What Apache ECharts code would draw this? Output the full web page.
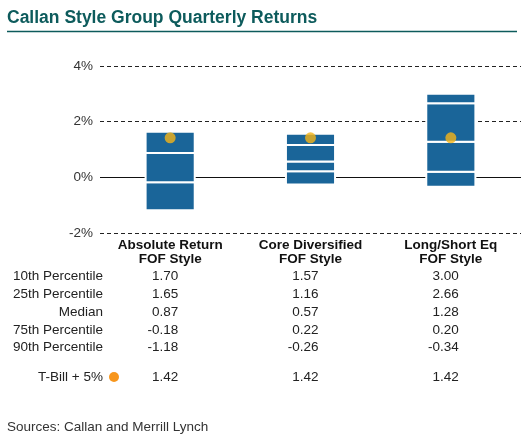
<!DOCTYPE html>
<html><head><meta charset="utf-8">
<script src="https://cdn.jsdelivr.net/npm/echarts@6/dist/echarts.min.js"></script>
<style>html,body{margin:0;padding:0;background:#fff}#c{width:531px;height:439px}</style>
</head><body><div id="c"></div>
<script>
const categories = ['Absolute Return\nFOF Style', 'Core Diversified\nFOF Style', 'Long/Short Eq\nFOF Style'];
const p10 = [1.70, 1.57, 3.00];
const p25 = [1.65, 1.16, 2.66];
const median = [0.87, 0.57, 1.28];
const p75 = [-0.18, 0.22, 0.20];
const p90 = [-1.18, -0.26, -0.34];
const tbill = [1.42, 1.42, 1.42];
const rowLabels = ['10th Percentile', '25th Percentile', 'Median', '75th Percentile', '90th Percentile'];
const yTicks = [-2, 0, 2, 4];

const FONT = '"Liberation Sans", Arial, sans-serif';
const BLUE = '#1a6599';
const GOLD = '#f5b417';
const ORANGE = '#f7961d';
const TEAL = '#0d5b5c';

const chart = echarts.init(document.getElementById('c'), null, {renderer: 'canvas'});
const boxData = categories.map((c, i) => [i, p90[i], p75[i], median[i], p25[i], p10[i]]);

const option = {
  animation: false,
  textStyle: {fontFamily: FONT},
  title: {text: 'Callan Style Group Quarterly Returns', left: 2, top: 4,
    textStyle: {fontFamily: FONT, fontSize: 17.5, fontWeight: 'bold', color: TEAL}},
  grid: {left: 100, width: 421, top: 66, height: 167},
  xAxis: {type: 'category', data: categories,
    axisLine: {show: false}, axisTick: {show: false},
    axisLabel: {margin: 6, fontFamily: FONT, fontSize: 13.5, fontWeight: 'bold', color: '#111', lineHeight: 13.5}},
  yAxis: {type: 'value', min: -2, max: 4, interval: 2,
    axisLine: {show: false}, axisTick: {show: false},
    axisLabel: {margin: 7, fontFamily: FONT, fontSize: 13.5, color: '#333', formatter: v => v + '%'},
    splitLine: {show: true, lineStyle: {color: '#222', width: 1, type: [4, 3]}}},
  series: [
    {type: 'line', data: [], z: 1, silent: true,
      markLine: {symbol: 'none', silent: true, label: {show: false},
        lineStyle: {color: '#111', width: 1, type: 'solid'}, data: [{yAxis: 0}]}},
    {type: 'custom', z: 5, data: boxData,
      encode: {x: 0, y: [1, 2, 3, 4, 5]},
      renderItem: function (params, api) {
        const idx = api.value(0);
        const w = api.size([1, 0])[0] * 0.35;
        const vals = [api.value(1), api.value(2), api.value(3), api.value(4), api.value(5)];
        const children = [];
        for (let k = 0; k < 4; k++) {
          const a = api.coord([idx, vals[k]]);
          const b = api.coord([idx, vals[k + 1]]);
          const y0 = Math.min(a[1], b[1]), y1 = Math.max(a[1], b[1]);
          children.push({type: 'rect', shape: {x: a[0] - w / 2, y: y0, width: w, height: y1 - y0},
            style: {fill: BLUE, stroke: '#fff', lineWidth: 2}});
        }
        return {type: 'group', children: children};
      }},
    {type: 'scatter', z: 10, data: tbill, symbol: 'circle', symbolSize: 11,
      itemStyle: {color: GOLD}}
  ],
  graphic: []
};
chart.setOption(option);

const textStyle = {fontFamily: FONT, fontSize: 13.5, fill: '#222'};
const g = [];
g.push({type: 'line', shape: {x1: 7, y1: 31.5, x2: 517, y2: 31.5}, style: {stroke: TEAL, lineWidth: 1.5}});
const rowY = [276, 294, 312, 330, 347];
const rows = [p10, p25, median, p75, p90];
const centers = categories.map((c, i) => chart.convertToPixel({xAxisIndex: 0}, i));
rowLabels.forEach((lab, r) => {
  g.push({type: 'text', x: 103, y: rowY[r], style: Object.assign({text: lab, align: 'right', verticalAlign: 'middle'}, textStyle)});
  rows[r].forEach((v, i) => {
    g.push({type: 'text', x: centers[i] + 8, y: rowY[r], style: Object.assign({text: v.toFixed(2), align: 'right', verticalAlign: 'middle'}, textStyle)});
  });
});
g.push({type: 'text', x: 103, y: 377, style: Object.assign({text: 'T-Bill + 5%', align: 'right', verticalAlign: 'middle'}, textStyle)});
g.push({type: 'circle', shape: {cx: 114, cy: 377, r: 5}, style: {fill: ORANGE}});
tbill.forEach((v, i) => {
  g.push({type: 'text', x: centers[i] + 8, y: 377, style: Object.assign({text: v.toFixed(2), align: 'right', verticalAlign: 'middle'}, textStyle)});
});
g.push({type: 'text', x: 7, y: 427, style: {text: 'Sources: Callan and Merrill Lynch', fontFamily: FONT, fontSize: 13.5, fill: '#333', verticalAlign: 'middle'}});
chart.setOption({graphic: g});
</script></body></html>
